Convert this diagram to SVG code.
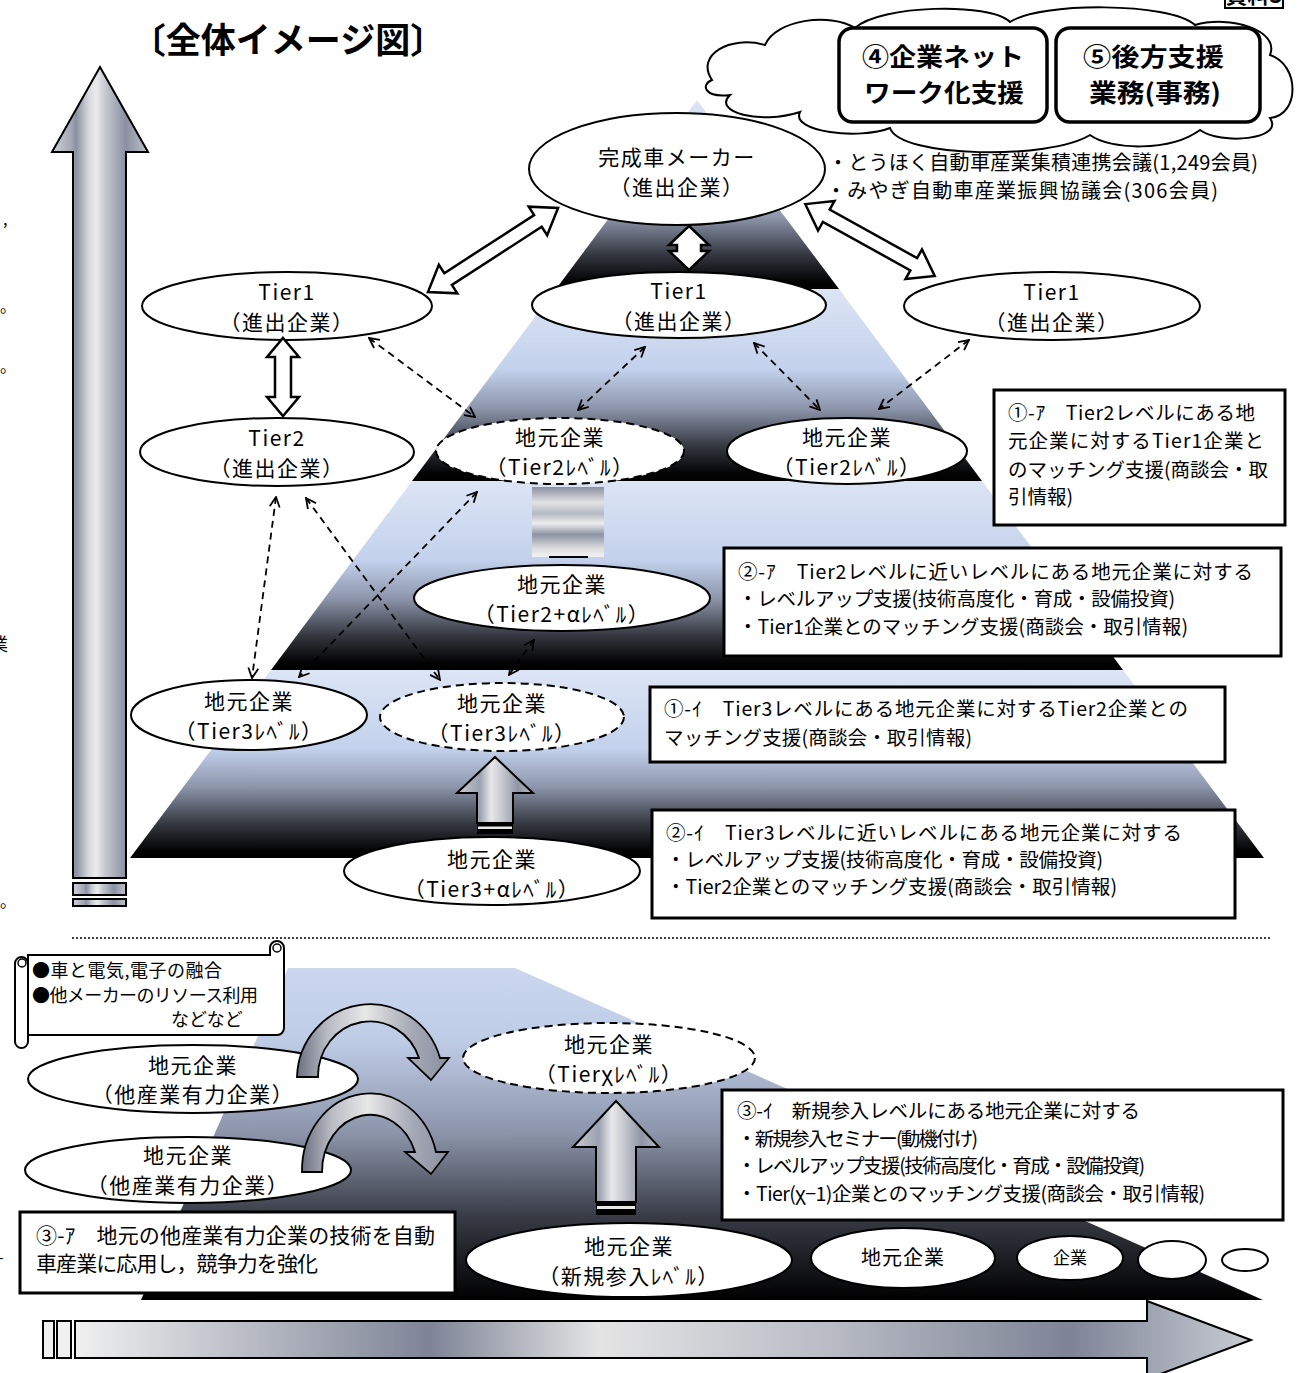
<svg xmlns="http://www.w3.org/2000/svg" width="1299" height="1373" viewBox="0 0 1299 1373">
<defs>
<style>
.e{fill:#fff;stroke:#000;stroke-width:2}
.ed{fill:#fff;stroke:#000;stroke-width:2;stroke-dasharray:8 5}
.box{fill:#fff;stroke:#000;stroke-width:3}
.tx{font-family:"Noto Sans CJK JP","Noto Sans",sans-serif;fill:#000}
.nt{font-size:21px;letter-spacing:1.5px;text-anchor:middle}
.bt{font-size:19.5px}
.ct{font-size:25px;font-weight:bold}
.dash{fill:none;stroke:#000;stroke-width:1.8;stroke-dasharray:7 5;marker-start:url(#oa);marker-end:url(#oa)}
.wa{fill:#fff;stroke:#000;stroke-width:2.5;stroke-linejoin:miter}
.ga{stroke:#000;stroke-width:2}
</style>
<marker id="oa" viewBox="0 0 12 12" refX="11" refY="6" markerWidth="12" markerHeight="12" markerUnits="userSpaceOnUse" orient="auto-start-reverse">
<path d="M1,1 L11,6 L1,11" fill="none" stroke="#000" stroke-width="1.8"/>
</marker>
<linearGradient id="band" x1="0" y1="0" x2="0" y2="1">
<stop offset="0" stop-color="#dce5f5"/>
<stop offset="0.42" stop-color="#c3d1ec"/>
<stop offset="0.62" stop-color="#8d96ab"/>
<stop offset="0.82" stop-color="#34373f"/>
<stop offset="0.96" stop-color="#030303"/>
<stop offset="1" stop-color="#000"/>
</linearGradient>
<linearGradient id="lower" x1="0" y1="0" x2="0" y2="1">
<stop offset="0" stop-color="#cad7ef"/>
<stop offset="0.22" stop-color="#bfcce6"/>
<stop offset="0.5" stop-color="#8b94a9"/>
<stop offset="0.75" stop-color="#383b45"/>
<stop offset="1" stop-color="#000"/>
</linearGradient>
<linearGradient id="vert" x1="0" y1="0" x2="1" y2="0">
<stop offset="0" stop-color="#d0d2d8"/>
<stop offset="0.2" stop-color="#a2a7b4"/>
<stop offset="0.25" stop-color="#8a90a1"/>
<stop offset="0.38" stop-color="#d6d8dd"/>
<stop offset="0.46" stop-color="#ebebed"/>
<stop offset="0.56" stop-color="#c3c6ce"/>
<stop offset="0.7" stop-color="#9ca2b0"/>
<stop offset="0.77" stop-color="#8a90a1"/>
<stop offset="1" stop-color="#bfc3cb"/>
</linearGradient>
<linearGradient id="upg" x1="0" y1="0" x2="1" y2="0">
<stop offset="0" stop-color="#c9ccd3"/>
<stop offset="0.3" stop-color="#9ba1af"/>
<stop offset="0.45" stop-color="#e8e8ea"/>
<stop offset="0.6" stop-color="#c4c7ce"/>
<stop offset="0.8" stop-color="#8f95a5"/>
<stop offset="1" stop-color="#b8bcc6"/>
</linearGradient>
<linearGradient id="sq" x1="0" y1="0" x2="0" y2="1">
<stop offset="0" stop-color="#8a90a2"/>
<stop offset="0.22" stop-color="#e2e2e4"/>
<stop offset="0.38" stop-color="#b5b9c3"/>
<stop offset="0.52" stop-color="#ececec"/>
<stop offset="0.68" stop-color="#8e94a4"/>
<stop offset="0.88" stop-color="#dedee0"/>
<stop offset="1" stop-color="#f2f2f2"/>
</linearGradient>
<linearGradient id="horiz" gradientUnits="userSpaceOnUse" x1="43" y1="0" x2="1251" y2="0">
<stop offset="0.026" stop-color="#f0f0f0"/>
<stop offset="0.17" stop-color="#b9bcc5"/>
<stop offset="0.32" stop-color="#7e8496"/>
<stop offset="0.46" stop-color="#e4e4e4"/>
<stop offset="0.65" stop-color="#b9bcc5"/>
<stop offset="0.85" stop-color="#7e8496"/>
<stop offset="1" stop-color="#c9ccd4"/>
</linearGradient>
<linearGradient id="curve" x1="0" y1="0" x2="1" y2="0">
<stop offset="0" stop-color="#6c7080"/>
<stop offset="0.2" stop-color="#b8bbc3"/>
<stop offset="0.45" stop-color="#e8e8e8"/>
<stop offset="0.75" stop-color="#a6aab6"/>
<stop offset="1" stop-color="#8a8fa0"/>
</linearGradient>
</defs>

<rect width="1299" height="1373" fill="#fff"/>

<!-- page fragments at the left edge -->
<g class="tx" font-size="16">
<text x="3" y="225">,</text>
<text x="0" y="312">。</text>
<text x="0" y="372">。</text>
<text x="-10" y="651" font-size="18">業</text>
<text x="0" y="907">。</text>
<text x="-2" y="1263">-</text>
</g>

<!-- title -->
<text class="tx" x="288" y="53" font-size="35" font-weight="bold" text-anchor="middle">〔全体イメージ図〕</text>

<!-- 資料3 label -->
<g id="label-shiryo">
<rect x="1225" y="-30" width="58" height="38" fill="#fff" stroke="#000" stroke-width="2"/>
<text class="tx" x="1254" y="3" font-size="22" font-weight="bold" text-anchor="middle">資料3</text>
</g>

<!-- pyramid -->
<g id="pyramid">
<polygon points="697,100 839,289 556,289" fill="url(#band)"/>
<polygon points="556,289 839,289 982,481 412,481" fill="url(#band)"/>
<polygon points="412,481 982,481 1123,670 271,670" fill="url(#band)"/>
<polygon points="271,670 1123,670 1264,858 130,858" fill="url(#band)"/>
</g>

<!-- separator -->
<line x1="72" y1="938" x2="1270" y2="938" stroke="#000" stroke-width="1.5" stroke-dasharray="2 2"/>

<!-- lower shape -->
<g id="lower-base">
<polygon points="288,968 515,968 1263,1300 141,1300" fill="url(#lower)"/>
</g>

<!-- left vertical arrow -->
<g id="axis-vertical">
<path d="M100,67 L148,152 L126,152 L126,878 L73,878 L73,152 L52,152 Z" fill="url(#vert)" class="ga"/>
<rect x="73" y="883" width="53" height="12" fill="url(#vert)" class="ga"/>
<rect x="73" y="899" width="53" height="7" fill="url(#vert)" class="ga"/>
</g>

<!-- bottom horizontal arrow -->
<g id="axis-horizontal">
<path d="M75,1321 L1147,1321 L1147,1301 L1251,1340 L1147,1379 L1147,1358 L75,1358 Z" fill="url(#horiz)" class="ga"/>
<rect x="43" y="1321" width="11" height="37" fill="#f0f0f0" class="ga"/>
<rect x="57" y="1321" width="14" height="37" fill="#f0f0f0" class="ga"/>
</g>

<!-- cloud -->
<g id="cloud">
<path d="M712,80 C695,55 730,35 765,45 C775,20 830,12 855,28 C880,5 990,2 1010,22 C1040,2 1170,2 1195,25 C1230,15 1280,30 1270,55 C1300,65 1300,115 1270,118 C1285,140 1220,145 1200,130 C1170,152 1110,150 1090,135 C1050,160 900,158 890,128 C860,140 790,132 800,112 C760,125 712,112 730,95 C705,98 700,85 712,80 Z" fill="#fff" stroke="#000" stroke-width="2"/>
</g>
<g id="box-network">
<rect x="839" y="28" width="208" height="94" rx="14" fill="#fff" stroke="#000" stroke-width="3.5"/>
<text class="tx ct" x="862" y="66" textLength="162" lengthAdjust="spacingAndGlyphs">④企業ネット</text>
<text class="tx ct" x="864" y="102" textLength="160" lengthAdjust="spacingAndGlyphs">ワーク化支援</text>
</g>
<g id="box-backoffice">
<rect x="1056" y="28" width="204" height="94" rx="14" fill="#fff" stroke="#000" stroke-width="3.5"/>
<text class="tx ct" x="1083" y="66" textLength="141" lengthAdjust="spacingAndGlyphs">⑤後方支援</text>
<text class="tx ct" x="1089" y="102" textLength="132" lengthAdjust="spacingAndGlyphs">業務(事務)</text>
</g>

<!-- council notes -->
<g id="councils" class="tx" font-size="20">
<text x="828" y="170" textLength="430">・とうほく自動車産業集積連携会議(1,249会員)</text>
<text x="826" y="198" textLength="392">・みやぎ自動車産業振興協議会(306会員)</text>
</g>

<!-- scroll -->
<g id="scroll">
<path d="M28,955 L270,955 L270,948 A7,7 0 0 1 284,948 L284,1028 A7,7 0 0 1 277,1035 L28,1035 Z" fill="#fff" stroke="#000" stroke-width="2"/>
<rect x="15" y="957" width="13" height="91" rx="6.5" fill="#fff" stroke="#000" stroke-width="2"/>
<circle cx="22" cy="963" r="4" fill="#fff" stroke="#000" stroke-width="1.5"/>
<circle cx="277" cy="948" r="4" fill="#fff" stroke="#000" stroke-width="1.5"/>
<text class="tx" x="32" y="977" font-size="18" textLength="190">●車と電気,電子の融合</text>
<text class="tx" x="32" y="1002" font-size="18" textLength="226">●他メーカーのリソース利用</text>
<text class="tx" x="171" y="1026" font-size="18">などなど</text>
</g>

<!-- nodes -->
<g id="n-maker"><ellipse class="e" cx="677" cy="169" rx="148" ry="56"/><text class="tx nt" x="677" y="165">完成車メーカー</text><text class="tx nt" x="677" y="195">（進出企業）</text></g>
<g id="n-tier1-left"><ellipse class="e" cx="287" cy="306" rx="145" ry="34"/><text class="tx nt" x="287" y="300">Tier1</text><text class="tx nt" x="287" y="330">（進出企業）</text></g>
<g id="n-tier1-mid"><ellipse class="e" cx="679" cy="305" rx="147" ry="33"/><text class="tx nt" x="679" y="299">Tier1</text><text class="tx nt" x="679" y="329">（進出企業）</text></g>
<g id="n-tier1-right"><ellipse class="e" cx="1052" cy="306" rx="148" ry="34"/><text class="tx nt" x="1052" y="300">Tier1</text><text class="tx nt" x="1052" y="330">（進出企業）</text></g>
<g id="n-tier2-adv"><ellipse class="e" cx="277" cy="452" rx="137" ry="34"/><text class="tx nt" x="277" y="446">Tier2</text><text class="tx nt" x="277" y="476">（進出企業）</text></g>
<g id="n-local-t2-dashed"><ellipse class="ed" cx="560" cy="451" rx="124" ry="33"/><text class="tx nt" x="560" y="445">地元企業</text><text class="tx nt" x="560" y="475">（Tier2ﾚﾍﾞﾙ）</text></g>
<g id="n-local-t2"><ellipse class="e" cx="847" cy="451" rx="120" ry="33"/><text class="tx nt" x="847" y="445">地元企業</text><text class="tx nt" x="847" y="475">（Tier2ﾚﾍﾞﾙ）</text></g>
<g id="n-local-t2a"><ellipse class="e" cx="562" cy="598" rx="148" ry="33"/><text class="tx nt" x="562" y="592">地元企業</text><text class="tx nt" x="562" y="622">（Tier2+αﾚﾍﾞﾙ）</text></g>
<g id="n-local-t3"><ellipse class="e" cx="249" cy="715" rx="118" ry="35"/><text class="tx nt" x="249" y="709">地元企業</text><text class="tx nt" x="249" y="739">（Tier3ﾚﾍﾞﾙ）</text></g>
<g id="n-local-t3-dashed"><ellipse class="ed" cx="502" cy="717" rx="122" ry="34"/><text class="tx nt" x="502" y="711">地元企業</text><text class="tx nt" x="502" y="741">（Tier3ﾚﾍﾞﾙ）</text></g>
<g id="n-local-t3a"><ellipse class="e" cx="492" cy="871" rx="148" ry="34"/><text class="tx nt" x="492" y="867">地元企業</text><text class="tx nt" x="492" y="897">（Tier3+αﾚﾍﾞﾙ）</text></g>
<g id="n-other-1"><ellipse class="e" cx="193" cy="1079" rx="165" ry="34"/><text class="tx nt" x="193" y="1073">地元企業</text><text class="tx nt" x="193" y="1102">（他産業有力企業）</text></g>
<g id="n-other-2"><ellipse class="e" cx="188" cy="1170" rx="163" ry="33"/><text class="tx nt" x="188" y="1163">地元企業</text><text class="tx nt" x="188" y="1193">（他産業有力企業）</text></g>
<g id="n-local-tx"><ellipse class="ed" cx="609" cy="1058" rx="146" ry="35"/><text class="tx nt" x="609" y="1052">地元企業</text><text class="tx nt" x="609" y="1082">（Tierχﾚﾍﾞﾙ）</text></g>
<g id="n-local-new"><ellipse class="e" cx="629" cy="1260" rx="163" ry="37"/><text class="tx nt" x="629" y="1254">地元企業</text><text class="tx nt" x="629" y="1284">（新規参入ﾚﾍﾞﾙ）</text></g>
<g id="n-local-s1"><ellipse class="e" cx="903" cy="1258" rx="92" ry="30"/><text class="tx" x="903" y="1265" font-size="20" letter-spacing="1" text-anchor="middle">地元企業</text></g>
<g id="n-local-s2"><ellipse class="e" cx="1070" cy="1258" rx="53" ry="22"/><text class="tx" x="1070" y="1264" font-size="17" text-anchor="middle">企業</text></g>
<g id="n-local-s3"><ellipse class="e" cx="1172" cy="1260" rx="34" ry="19"/></g>
<g id="n-local-s4"><ellipse class="e" cx="1245" cy="1260" rx="23" ry="11"/></g>

<!-- text boxes -->
<g id="box-1a">
<rect class="box" x="994" y="390" width="291" height="135"/>
<g class="tx bt"><text x="1008" y="420" textLength="247">①-ｱ　Tier2レベルにある地</text><text x="1008" y="448" textLength="256">元企業に対するTier1企業と</text><text x="1008" y="477" textLength="260">のマッチング支援(商談会・取</text><text x="1008" y="504">引情報)</text></g>
</g>
<g id="box-2a">
<rect class="box" x="724" y="548" width="557" height="108"/>
<g class="tx bt"><text x="738" y="579" textLength="515">②-ｱ　Tier2レベルに近いレベルにある地元企業に対する</text><text x="738" y="606" textLength="437">・レベルアップ支援(技術高度化・育成・設備投資)</text><text x="738" y="634" textLength="450">・Tier1企業とのマッチング支援(商談会・取引情報)</text></g>
</g>
<g id="box-1i">
<rect class="box" x="650" y="687" width="575" height="75"/>
<g class="tx bt"><text x="664" y="716" textLength="524">①-ｲ　Tier3レベルにある地元企業に対するTier2企業との</text><text x="664" y="745" textLength="308">マッチング支援(商談会・取引情報)</text></g>
</g>
<g id="box-2i">
<rect class="box" x="652" y="810" width="583" height="108"/>
<g class="tx bt"><text x="666" y="840" textLength="516">②-ｲ　Tier3レベルに近いレベルにある地元企業に対する</text><text x="666" y="867" textLength="437">・レベルアップ支援(技術高度化・育成・設備投資)</text><text x="666" y="894" textLength="451">・Tier2企業とのマッチング支援(商談会・取引情報)</text></g>
</g>
<g id="box-3i">
<rect class="box" x="722" y="1090" width="561" height="130"/>
<g class="tx bt"><text x="737" y="1118" textLength="403">③-ｲ　新規参入レベルにある地元企業に対する</text><text x="737" y="1146" textLength="241">・新規参入セミナー(動機付け)</text><text x="737" y="1173" textLength="408">・レベルアップ支援(技術高度化・育成・設備投資)</text><text x="737" y="1201" textLength="468">・Tier(χ−1)企業とのマッチング支援(商談会・取引情報)</text></g>
</g>
<g id="box-3a">
<rect class="box" x="20" y="1212" width="435" height="81"/>
<g class="tx" font-size="21"><text x="36" y="1243" textLength="399">③-ｱ　地元の他産業有力企業の技術を自動</text><text x="36" y="1271" textLength="282">車産業に応用し，競争力を強化</text></g>
</g>

<!-- connectors -->
<g id="connectors">
<polygon class="wa" transform="translate(493,250) rotate(-32.9)" points="-77.5,0 -53.5,-17 -53.5,-7 53.5,-7 53.5,-17 77.5,0 53.5,17 53.5,7 -53.5,7 -53.5,17"/>
<polygon class="wa" transform="translate(870,240) rotate(29)" points="-74,0 -50,-17 -50,-7 50,-7 50,-17 74,0 50,17 50,7 -50,7 -50,17"/>
<polygon class="wa" transform="translate(689,248) rotate(90)" points="-22,0 -3,-20 -3,-12 3,-12 3,-20 22,0 3,20 3,12 -3,12 -3,20"/>
<polygon class="wa" transform="translate(283,377) rotate(90)" points="-39,0 -20,-16 -20,-8 20,-8 20,-16 39,0 20,16 20,8 -20,8 -20,16"/>
<line class="dash" x1="369" y1="338" x2="475" y2="417"/>
<line class="dash" x1="645" y1="347" x2="578" y2="410"/>
<line class="dash" x1="754" y1="343" x2="820" y2="410"/>
<line class="dash" x1="969" y1="340" x2="879" y2="409"/>
<line class="dash" x1="276" y1="497" x2="252" y2="678"/>
<line class="dash" x1="306" y1="498" x2="440" y2="680"/>
<line class="dash" x1="477" y1="492" x2="299" y2="677"/>
<line class="dash" x1="534" y1="640" x2="509" y2="675"/>
<rect x="532" y="487" width="72" height="70" fill="url(#sq)"/>
<line x1="549" y1="557" x2="588" y2="557" stroke="#000" stroke-width="2"/>
<path d="M495,757 L533,793 L513,793 L513,823 L477,823 L477,793 L457,793 Z" fill="url(#upg)" class="ga"/>
<rect x="477" y="823" width="36" height="11" fill="#000"/>
<rect x="478" y="826.5" width="34" height="2.5" fill="#e8e8e8"/>
<path d="M616,1101 L659,1147 L636,1147 L636,1202 L596,1202 L596,1147 L573,1147 Z" fill="url(#upg)" class="ga"/>
<rect x="596" y="1202" width="40" height="13" fill="#000"/>
<rect x="597" y="1206" width="38" height="3" fill="#e8e8e8"/>
<path d="M297,1077 A73,75 0 0 1 440,1058 L449,1058 L431,1080 L408,1058 L419,1058 A52,55 0 0 0 318,1077 Z" fill="url(#curve)" stroke="#000" stroke-width="1.8"/>
<path d="M302,1172 A68,77 0 0 1 436,1152 L448,1152 L431,1174 L405,1152 L415,1152 A48,57 0 0 0 322,1172 Z" fill="url(#curve)" stroke="#000" stroke-width="1.8"/>
</g>
</svg>
